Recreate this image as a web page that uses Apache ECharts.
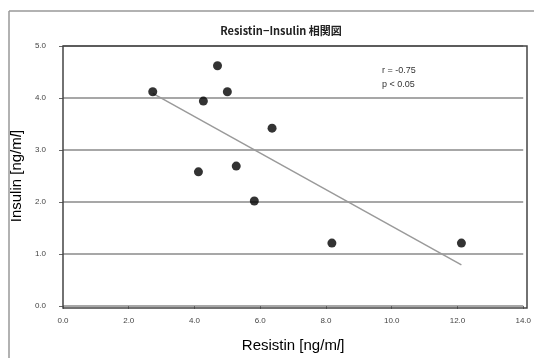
<!DOCTYPE html>
<html>
<head>
<meta charset="utf-8">
<script src="https://cdn.jsdelivr.net/npm/echarts@6/dist/echarts.min.js"></script>
<style>
  html, body { margin: 0; padding: 0; background: #fff; }
  #chart { width: 534px; height: 358px; }
</style>
</head>
<body>
<div id="chart"></div>
<script>
// 散布図のデータ (Resistin, Insulin)
const resistin = [2.73, 4.70, 5.00, 4.27, 6.36, 5.27, 4.12, 5.82, 8.18, 12.12];
const insulin = [4.12, 4.62, 4.12, 3.94, 3.42, 2.69, 2.58, 2.02, 1.21, 1.21];
// 近似直線の両端
const trendX = [2.73, 12.12];
const trendY = [4.09, 0.79];
const xTicks = ['0.0', '2.0', '4.0', '6.0', '8.0', '10.0', '12.0', '14.0'];
const yTicks = ['0.0', '1.0', '2.0', '3.0', '4.0', '5.0'];
const statLines = ['r = -0.75', 'p < 0.05'];

const chart = echarts.init(document.getElementById('chart'));
chart.setOption({
  animation: false,
  backgroundColor: '#fff',
  textStyle: { fontFamily: 'Liberation Sans, Arial, sans-serif' },
  title: {
    text: 'Resistin−Insulin 相関図',
    left: 276, top: 20, textAlign: 'center',
    textStyle: { fontSize: 11, fontWeight: 'bold', color: '#222', fontFamily: 'Noto Sans CJK JP' }
  },
  grid: { left: 63, right: 7, top: 46, bottom: 50 },
  xAxis: {
    type: 'value', min: 0, max: 14, interval: 2,
    name: 'Resistin [ng/m{i|l}]',
    nameLocation: 'middle', nameGap: 32,
    nameTextStyle: {
      fontSize: 15, color: '#000',
      rich: { i: { fontSize: 15, fontStyle: 'italic', color: '#000' } }
    },
    axisLine: { show: false },
    axisTick: { show: true, length: 3, lineStyle: { color: '#666' } },
    axisLabel: {
      fontSize: 8, color: '#444', margin: 11,
      formatter: (v) => xTicks[Math.round(v / 2)]
    },
    splitLine: { show: false }
  },
  yAxis: {
    type: 'value', min: 0, max: 5, interval: 1,
    name: 'Insulin [ng/m{i|l}]',
    nameLocation: 'middle', nameGap: 38, nameRotate: 90,
    nameTextStyle: {
      fontSize: 15, color: '#000',
      rich: { i: { fontSize: 15, fontStyle: 'italic', color: '#000' } }
    },
    axisLine: { show: false },
    axisTick: { show: true, length: 4, lineStyle: { color: '#666' } },
    axisLabel: {
      fontSize: 8, color: '#444', margin: 17,
      formatter: (v) => yTicks[Math.round(v)]
    },
    splitLine: { show: true, lineStyle: { color: '#8a8a8a', width: 1.5 } }
  },
  graphic: [
    // 外枠
    { type: 'line', shape: { x1: 9, y1: 11, x2: 534, y2: 11 }, style: { stroke: '#999', lineWidth: 1.5 } },
    { type: 'line', shape: { x1: 9, y1: 11, x2: 9, y2: 358 }, style: { stroke: '#999', lineWidth: 1.5 } },
    // プロット枠
    { type: 'rect', shape: { x: 63, y: 46, width: 464, height: 262 }, style: { fill: 'none', stroke: '#444', lineWidth: 1.5 }, z: 10 },
    {
      type: 'text', left: 382, top: 64,
      style: { text: statLines.join('\n'), fontSize: 9, lineHeight: 14, fill: '#333', fontFamily: 'Liberation Sans' }
    }
  ],
  series: [
    {
      type: 'line',
      data: trendX.map((x, i) => [x, trendY[i]]),
      symbol: 'none',
      lineStyle: { color: '#9a9a9a', width: 1.5 },
      z: 2
    },
    {
      type: 'scatter',
      data: resistin.map((x, i) => [x, insulin[i]]),
      symbol: 'circle', symbolSize: 9,
      itemStyle: { color: '#000' },
      z: 3
    }
  ]
});
</script>
</body>
</html>
